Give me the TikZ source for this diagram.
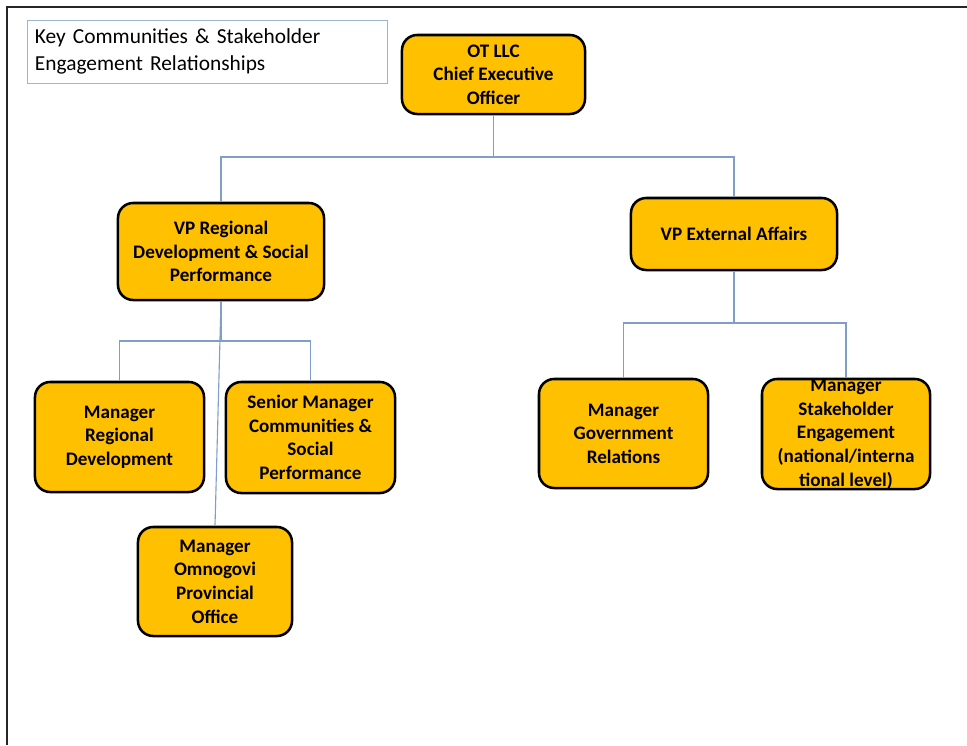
\documentclass[tikz,border=0pt]{standalone}
\usepackage{fontspec}
\setmainfont{Carlito}
\usetikzlibrary{calc}

\definecolor{boxgold}{HTML}{FFC000}
\definecolor{linkblue}{HTML}{7F9FC8}
\definecolor{framegray}{HTML}{9DB5D5}

\begin{document}
\begin{tikzpicture}[x=0.025cm,y=-0.025cm,
  role/.style={draw=black,line width=1.8pt,fill=boxgold,rounded corners=0.38cm,
    align=center,inner sep=0pt,font=\bfseries\fontsize{13.6}{16.8}\selectfont},
  link/.style={draw=linkblue,line width=0.8pt}]
  \useasboundingbox (0,0) rectangle (967,745);
  % marco recortado
  \draw[line width=1.2pt,black!85] (7,745) -- (7,7) -- (967,7);
  % titulo
  \node[draw=framegray,line width=0.6pt,minimum width=9cm,minimum height=1.575cm,
    text width=8.6cm,align=left,inner sep=0pt,font=\fontsize{15.2}{19}\selectfont]
    (title) at (207,51.5) {Key Communities \& Stakeholder\\Engagement Relationships};
  % cajas
  \node[role,minimum width=4.575cm,minimum height=1.975cm] (ceo) at (493.5,74.5)
    {OT LLC\\Chief Executive\\Officer};
  \node[role,minimum width=5.15cm,minimum height=2.425cm] (vpreg) at (221,251.5)
    {VP Regional\\Development \& Social\\Performance};
  \node[role,minimum width=5.15cm,minimum height=1.8cm] (vpext) at (734,234)
    {VP External Affairs};
  \node[role,minimum width=4.225cm,minimum height=2.75cm] (mgrreg) at (119.5,437)
    {Manager\\Regional\\Development};
  \node[role,minimum width=4.225cm,minimum height=2.775cm] (srmgr) at (310.5,437.5)
    {Senior Manager\\Communities \&\\Social\\Performance};
  \node[role,minimum width=3.85cm,minimum height=2.725cm] (omno) at (215,581.5)
    {Manager\\Omnogovi\\Provincial\\Office};
  \node[role,minimum width=4.225cm,minimum height=2.725cm] (govrel) at (623.5,433.5)
    {Manager\\Government\\Relations};
  \node[role,minimum width=4.2cm,minimum height=2.75cm] (stake) at (846,434)
    {Manager\\Stakeholder\\Engagement\\(national/interna\\tional level)};
  % lineas
  \coordinate (j1) at (ceo.south |- 0,157);
  \coordinate (j2) at (vpreg.south |- 0,341);
  \coordinate (j3) at (vpext.south |- 0,323);
  \draw[link] (ceo.south) -- (j1) -| (vpreg.north);
  \draw[link] (j1) -| (vpext.north);
  \draw[link] (vpreg.south) -- (j2) -| (mgrreg.north);
  \draw[link] (j2) -| (srmgr.north);
  \draw[link] (vpreg.south) -- (omno.north);
  \draw[link] (vpext.south) -- (j3) -| (govrel.north);
  \draw[link] (j3) -| (stake.north);
\end{tikzpicture}
\end{document}
